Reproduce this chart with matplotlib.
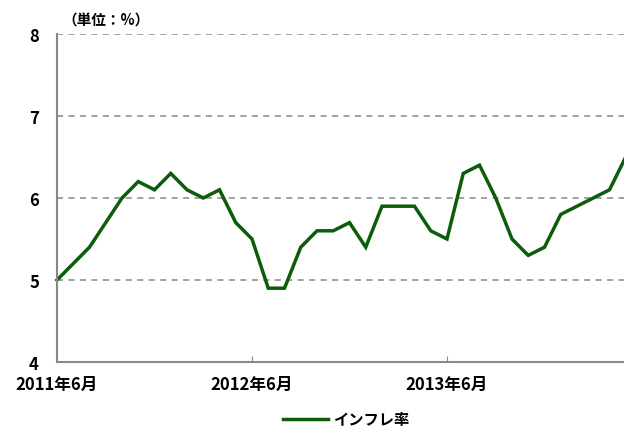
import matplotlib
matplotlib.use("Agg")
import matplotlib.pyplot as plt
import numpy as np

plt.rcParams['font.family'] = ['Noto Sans CJK JP', 'DejaVu Sans']

# monthly inflation rate, 2011/6 - 2014/5
inflation = [5.0, 5.2, 5.4, 5.7, 6.0, 6.2, 6.1, 6.3, 6.1, 6.0, 6.1, 5.7,
             5.5, 4.9, 4.9, 5.4, 5.6, 5.6, 5.7, 5.4, 5.9, 5.9, 5.9, 5.6,
             5.5, 6.3, 6.4, 6.0, 5.5, 5.3, 5.4, 5.8, 5.9, 6.0, 6.1, 6.5]
tick_pos = [0, 12, 24]
tick_labels = ['2011年6月', '2012年6月', '2013年6月']
series_name = 'インフレ率'
unit_label = '（単位：%）'

fig = plt.figure(figsize=(6.24, 4.27), dpi=100)
ax = fig.add_axes([57/624, 1 - 363/427, (625.75 - 57)/624, (363 - 35)/427])

x = np.arange(len(inflation))
ax.plot(x, inflation, color='#0B5D0B', linewidth=2.5, label=series_name,
        clip_on=False, solid_joinstyle='miter')

ax.set_xlim(0, 35)
ax.set_ylim(4, 8)
ax.set_yticks([4, 5, 6, 7, 8])
for v in [5, 6, 7, 8]:
    ax.axhline(v, color='#888888', linestyle=(0, (4, 3.5)), linewidth=1.1, zorder=0)

ax.set_xticks(tick_pos)
ax.set_xticklabels(tick_labels)
for s in ['top', 'right']:
    ax.spines[s].set_visible(False)
for s in ['left', 'bottom']:
    ax.spines[s].set_color('#888888')
    ax.spines[s].set_linewidth(1.5)
ax.tick_params(axis='x', direction='in', length=4, color='#888888', pad=9, labelsize=12)
ax.tick_params(axis='y', length=0, pad=13, labelsize=12)
for lab in ax.get_xticklabels() + ax.get_yticklabels():
    lab.set_fontweight('bold')

fig.text(62/624, 1 - 21/427, unit_label, fontsize=10.5, fontweight='bold', va='center')

# top border line
fig.add_artist(plt.Line2D([0, 1], [0.999, 0.999], color='black', linewidth=1.2))

leg = fig.legend(loc='center', bbox_to_anchor=(346/624, 1 - 420/427), frameon=False,
                 fontsize=11, handlelength=3.0, handletextpad=0.3)
for t in leg.get_texts():
    t.set_fontweight('bold')

fig.savefig('out.png', dpi=100)
